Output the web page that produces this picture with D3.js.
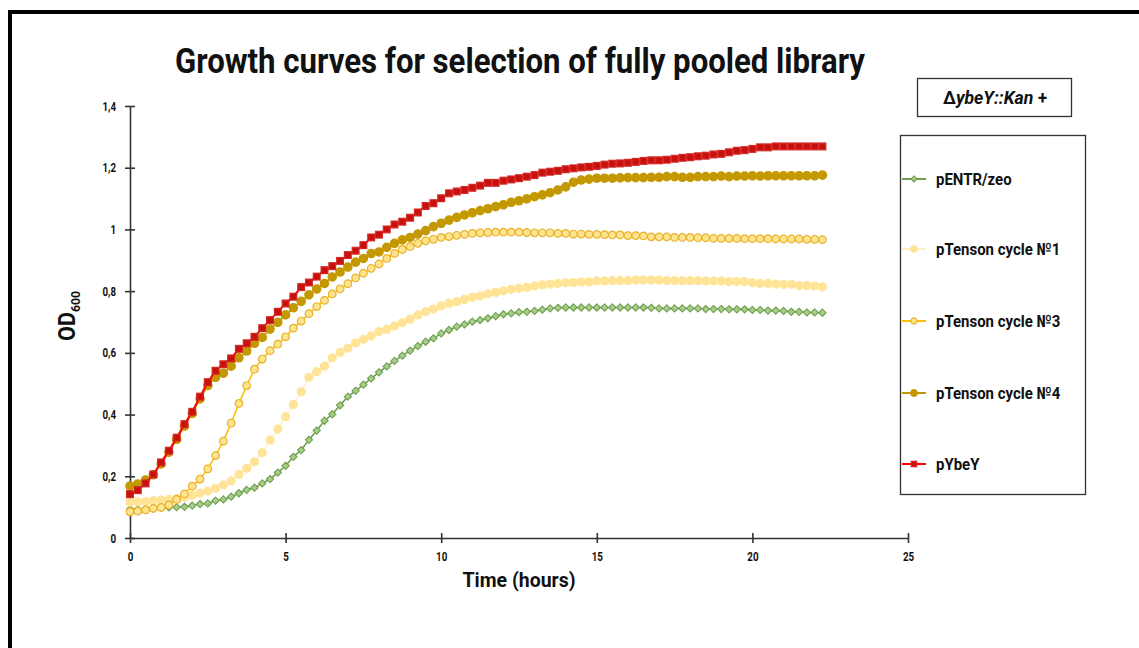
<!DOCTYPE html>
<meta charset="utf-8">
<head>
<script src="https://cdn.jsdelivr.net/npm/d3@7"></script>
<style>
	body { margin: 0; background: #fff; }
	svg { display: block; }
	text { font-family: Roboto, "Liberation Sans", sans-serif; font-weight: bold; fill: #111; }
</style>
</head>
<body>
<div id="chart"></div>
<script>

// sampling times (hours), every 15 min
const hours = [
	0, 0.25, 0.5, 0.75, 1, 1.25, 1.5, 1.75, 2, 2.25,
	2.5, 2.75, 3, 3.25, 3.5, 3.75, 4, 4.25, 4.5, 4.75,
	5, 5.25, 5.5, 5.75, 6, 6.25, 6.5, 6.75, 7, 7.25,
	7.5, 7.75, 8, 8.25, 8.5, 8.75, 9, 9.25, 9.5, 9.75,
	10, 10.25, 10.5, 10.75, 11, 11.25, 11.5, 11.75, 12, 12.25,
	12.5, 12.75, 13, 13.25, 13.5, 13.75, 14, 14.25, 14.5, 14.75,
	15, 15.25, 15.5, 15.75, 16, 16.25, 16.5, 16.75, 17, 17.25,
	17.5, 17.75, 18, 18.25, 18.5, 18.75, 19, 19.25, 19.5, 19.75,
	20, 20.25, 20.5, 20.75, 21, 21.25, 21.5, 21.75, 22, 22.25
]

const pENTR = [
	0.093,0.093,0.094,0.095,0.097,0.099,0.100,0.101,0.105,0.110,
	0.112,0.121,0.125,0.134,0.145,0.156,0.163,0.177,0.191,0.212,
	0.234,0.263,0.285,0.318,0.348,0.380,0.401,0.430,0.458,0.477,
	0.497,0.517,0.537,0.556,0.574,0.591,0.607,0.622,0.636,0.647,
	0.663,0.674,0.685,0.692,0.701,0.706,0.712,0.719,0.725,0.728,
	0.732,0.733,0.736,0.740,0.744,0.746,0.747,0.747,0.747,0.747,
	0.747,0.747,0.747,0.747,0.747,0.747,0.747,0.746,0.744,0.744,
	0.744,0.744,0.744,0.744,0.742,0.742,0.742,0.741,0.741,0.741,
	0.739,0.739,0.737,0.737,0.736,0.733,0.733,0.731,0.731,0.730
]

const cycle1 = [
	0.116,0.117,0.118,0.121,0.123,0.125,0.128,0.132,0.138,0.145,
	0.152,0.161,0.172,0.185,0.206,0.226,0.247,0.276,0.317,0.353,
	0.393,0.433,0.474,0.521,0.539,0.557,0.584,0.602,0.615,0.632,
	0.644,0.655,0.669,0.676,0.687,0.698,0.709,0.723,0.733,0.742,
	0.752,0.761,0.766,0.773,0.780,0.784,0.791,0.796,0.801,0.806,
	0.809,0.812,0.817,0.820,0.823,0.825,0.827,0.828,0.830,0.830,
	0.833,0.833,0.834,0.834,0.834,0.836,0.836,0.836,0.836,0.834,
	0.834,0.834,0.834,0.834,0.833,0.833,0.833,0.831,0.831,0.831,
	0.827,0.825,0.825,0.823,0.822,0.822,0.818,0.818,0.817,0.814
]

const cycle3 = [
	0.085,0.087,0.091,0.096,0.099,0.107,0.125,0.143,0.168,0.191,
	0.224,0.267,0.314,0.372,0.436,0.494,0.547,0.580,0.607,0.628,
	0.652,0.680,0.703,0.727,0.750,0.770,0.791,0.807,0.824,0.843,
	0.858,0.874,0.888,0.906,0.922,0.935,0.944,0.955,0.963,0.968,
	0.974,0.977,0.981,0.984,0.987,0.989,0.990,0.991,0.991,0.991,
	0.991,0.990,0.989,0.989,0.989,0.987,0.987,0.985,0.985,0.984,
	0.984,0.983,0.982,0.982,0.980,0.980,0.979,0.976,0.976,0.976,
	0.974,0.974,0.974,0.973,0.973,0.971,0.971,0.971,0.971,0.970,
	0.970,0.970,0.970,0.969,0.969,0.969,0.969,0.968,0.968,0.967
]

const cycle4 = [
	0.168,0.175,0.188,0.205,0.240,0.278,0.320,0.363,0.404,0.451,
	0.494,0.521,0.534,0.557,0.584,0.606,0.631,0.650,0.677,0.699,
	0.723,0.746,0.767,0.788,0.807,0.825,0.846,0.862,0.878,0.894,
	0.906,0.922,0.927,0.942,0.955,0.966,0.974,0.985,0.996,1.009,
	1.020,1.030,1.039,1.047,1.054,1.061,1.067,1.074,1.080,1.088,
	1.093,1.099,1.106,1.112,1.119,1.128,1.138,1.153,1.160,1.163,
	1.166,1.166,1.166,1.167,1.168,1.168,1.168,1.169,1.169,1.171,
	1.171,1.169,1.169,1.171,1.171,1.171,1.173,1.171,1.173,1.173,
	1.174,1.173,1.174,1.174,1.174,1.174,1.174,1.174,1.174,1.176
]

const pYbeY = [
	0.142,0.155,0.177,0.206,0.245,0.283,0.325,0.369,0.409,0.458,
	0.505,0.542,0.563,0.582,0.613,0.631,0.652,0.680,0.706,0.733,
	0.760,0.782,0.813,0.828,0.847,0.868,0.881,0.898,0.917,0.931,
	0.949,0.974,0.983,1.000,1.016,1.025,1.038,1.055,1.076,1.085,
	1.101,1.117,1.123,1.128,1.135,1.142,1.151,1.151,1.158,1.162,
	1.166,1.171,1.176,1.184,1.187,1.190,1.195,1.198,1.201,1.203,
	1.206,1.210,1.213,1.214,1.216,1.219,1.222,1.224,1.224,1.226,
	1.229,1.232,1.234,1.237,1.239,1.243,1.245,1.250,1.255,1.257,
	1.261,1.266,1.266,1.269,1.269,1.269,1.269,1.269,1.269,1.269
]

const seriesNames = ['pENTR/zeo', 'pTenson cycle №1', 'pTenson cycle №3', 'pTenson cycle №4', 'pYbeY']
const xTicks = [0, 5, 10, 15, 20, 25]
const yTicks = [0, 0.2, 0.4, 0.6, 0.8, 1, 1.2, 1.4]

////////////////////////////////////
// SETUP
////////////////////////////////////

const W = 1139, H = 648

const svg = d3.select('#chart').append('svg')
	.attr('width', W)
	.attr('height', H)

// outer frame (runs off the right and bottom of the picture)
svg.append('path')
	.attr('d', `M10,${H + 5}V12H${W + 5}`)
	.attr('fill', 'none')
	.attr('stroke', '#000')
	.attr('stroke-width', 4)

const x = d3.scaleLinear().domain([0, 25]).range([130, 908])
const y = d3.scaleLinear().domain([0, 1.4]).range([538, 106])

const fmt = d => String(d).replace('.', ',')

// squeeze text horizontally, the original uses a condensed face
function narrow(sel, k) {
	sel.each(function() {
		const w = this.getComputedTextLength()
		d3.select(this).attr('textLength', w * k).attr('lengthAdjust', 'spacingAndGlyphs')
	})
}

const styles = [
	{ line: '#6f9c52', width: 1.6, marker: 'diamond', size: 5.5, fill: '#a8cf8a', stroke: '#73a352' },
	{ line: '#fff0c4', width: 1.4, marker: 'circle', size: 4, fill: '#ffe497', stroke: '#ffe497' },
	{ line: '#ffc000', width: 1.6, marker: 'circle', size: 3.8, fill: '#ffe48f', stroke: '#e8b22c' },
	{ line: '#c49800', width: 1.6, marker: 'circle', size: 4.2, fill: '#c49800', stroke: '#c49800' },
	{ line: '#ff0000', width: 2, marker: 'square', size: 6.8, fill: '#c8100c', stroke: '#d42a26' }
]

const allSeries = [pENTR, cycle1, cycle3, cycle4, pYbeY].map((vals, k) => ({
	name: seriesNames[k],
	style: styles[k],
	points: vals.map((v, i) => ({ t: hours[i], v: v }))
}))

////////////////////////////////////
// TITLE + LABELS
////////////////////////////////////

svg.append('text')
	.attr('x', 520)
	.attr('y', 73)
	.attr('text-anchor', 'middle')
	.style('font-size', '35px')
	.text('Growth curves for selection of fully pooled library')
	.call(s => s.attr('textLength', 690).attr('lengthAdjust', 'spacingAndGlyphs'))

svg.append('text')
	.attr('x', 519)
	.attr('y', 587)
	.attr('text-anchor', 'middle')
	.style('font-size', '21px')
	.text('Time (hours)')
	.call(s => s.attr('textLength', 113).attr('lengthAdjust', 'spacingAndGlyphs'))

const yLab = svg.append('text')
	.attr('transform', 'translate(75,316) rotate(-90)')
	.attr('text-anchor', 'middle')
	.style('font-size', '23px')
yLab.append('tspan').text('OD')
yLab.append('tspan').attr('dy', 5).style('font-size', '13px').text('600')
yLab.attr('textLength', 50).attr('lengthAdjust', 'spacingAndGlyphs')

////////////////////////////////////
// AXES
////////////////////////////////////

const xAxis = svg.append('g')
	.attr('transform', `translate(0,${y(0)})`)
	.call(d3.axisBottom(x).tickValues(xTicks).tickFormat(fmt).tickSize(5).tickSizeOuter(0).tickPadding(9))
xAxis.selectAll('.tick line').attr('y1', -5).attr('y2', 5)

const yAxis = svg.append('g')
	.attr('transform', `translate(${x(0)},0)`)
	.call(d3.axisLeft(y).tickValues(yTicks).tickFormat(fmt).tickSize(5).tickSizeOuter(0).tickPadding(9))
yAxis.selectAll('.tick line').attr('x1', -5).attr('x2', 5)

svg.selectAll('.domain, .tick line').attr('stroke', '#333').attr('stroke-width', 1.6)
svg.selectAll('.tick text').style('font-size', '12.5px').attr('fill', '#111')
	.style('font-family', 'Roboto, sans-serif').style('font-weight', 'bold')
	.call(narrow, 0.78)

////////////////////////////////////
// CURVES
////////////////////////////////////

const line = d3.line().x(d => x(d.t)).y(d => y(d.v))

function drawMarker(sel, s) {
	if (s.marker === 'circle') {
		sel.append('circle').attr('r', s.size)
	} else if (s.marker === 'square') {
		sel.append('rect').attr('x', -s.size / 2).attr('y', -s.size / 2).attr('width', s.size).attr('height', s.size)
	} else {
		const r = s.size / 2 + 0.8
		sel.append('path').attr('d', `M0,${-r}L${r},0L0,${r}L${-r},0Z`)
	}
	sel.attr('fill', s.fill).attr('stroke', s.stroke).attr('stroke-width', 1.2)
}

const seriesG = svg.selectAll('.series')
	.data(allSeries)
	.enter().append('g')
	.attr('class', 'series')

seriesG.append('path')
	.attr('d', d => line(d.points))
	.attr('fill', 'none')
	.attr('stroke', d => d.style.line)
	.attr('stroke-width', d => d.style.width)

seriesG.each(function(d) {
	d3.select(this).selectAll('.pt')
		.data(d.points)
		.enter().append('g')
		.attr('class', 'pt')
		.attr('transform', p => `translate(${x(p.t)},${y(p.v)})`)
		.each(function() { drawMarker(d3.select(this), d.style) })
})

////////////////////////////////////
// LEGEND
////////////////////////////////////

const head = svg.append('g')
head.append('rect')
	.attr('x', 917.5).attr('y', 78.5).attr('width', 154).attr('height', 38)
	.attr('fill', '#fff').attr('stroke', '#333').attr('stroke-width', 1.3)
const headText = head.append('text')
	.attr('x', 995).attr('y', 104)
	.attr('text-anchor', 'middle')
	.style('font-size', '19px')
headText.append('tspan').text('Δ')
headText.append('tspan').style('font-style', 'italic').text('ybeY::Kan')
headText.append('tspan').attr('dx', 5).style('font-size', '18px').text('+')
headText.attr('textLength', 104).attr('lengthAdjust', 'spacingAndGlyphs')

const legend = svg.append('g')
legend.append('rect')
	.attr('x', 900.5).attr('y', 135.5).attr('width', 185).attr('height', 359)
	.attr('fill', 'none').attr('stroke', '#333').attr('stroke-width', 1.3)

const legendY = [179, 249, 321, 393, 464]

const items = legend.selectAll('.item')
	.data(allSeries)
	.enter().append('g')
	.attr('class', 'item')
	.attr('transform', (d, i) => `translate(902,${legendY[i]})`)

items.append('line')
	.attr('x1', 0).attr('x2', 24)
	.attr('stroke', d => d.style.line)
	.attr('stroke-width', 2)

items.append('g')
	.attr('transform', 'translate(12,0)')
	.each(function(d) { drawMarker(d3.select(this), Object.assign({}, d.style, { size: d.style.size * 0.8 })) })

items.append('text')
	.attr('x', 34)
	.attr('dy', '0.36em')
	.style('font-size', '17px')
	.text(d => d.name)
	.call(narrow, 0.88)

</script>
</body>
